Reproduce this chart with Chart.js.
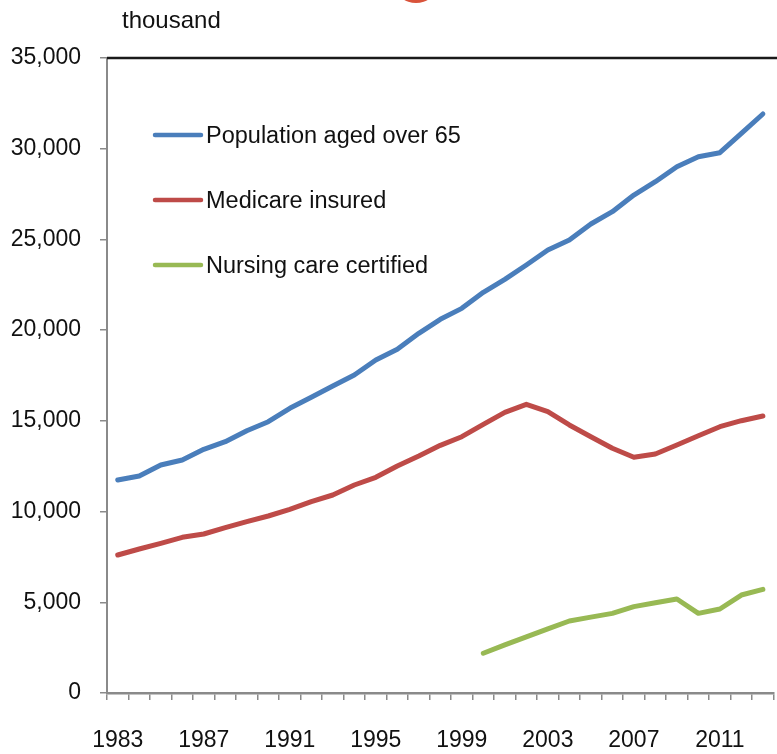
<!DOCTYPE html>
<html>
<head>
<meta charset="utf-8">
<script src="https://cdn.jsdelivr.net/npm/chart.js@4/dist/chart.umd.min.js"></script>
<style>
  html, body { margin: 0; padding: 0; overflow: hidden; background: #ffffff; width: 777px; height: 754px; }
  canvas { display: block; }
</style>
</head>
<body>
<canvas id="c" width="790" height="754"></canvas>
<script>
const years = ['1983','1984','1985','1986','1987','1988','1989','1990','1991','1992','1993','1994','1995','1996','1997','1998','1999','2000','2001','2002','2003','2004','2005','2006','2007','2008','2009','2010','2011','2012','2013'];
const population65 = [11740, 11960, 12567, 12842, 13430, 13851, 14457, 14953, 15692, 16298, 16921, 17527, 18354, 18944, 19826, 20597, 21200, 22085, 22800, 23590, 24417, 24968, 25850, 26530, 27448, 28183, 29010, 29560, 29780, 30850, 31913];
const medicare = [7606, 7937, 8250, 8580, 8764, 9111, 9442, 9756, 10125, 10545, 10913, 11464, 11889, 12512, 13063, 13650, 14127, 14810, 15471, 15912, 15505, 14772, 14127, 13487, 12991, 13173, 13669, 14182, 14678, 15008, 15267];
const nursing = [null, null, null, null, null, null, null, null, null, null, null, null, null, null, null, null, null, 2190, 2650, 3090, 3535, 3968, 4180, 4390, 4760, 4970, 5181, 4390, 4630, 5400, 5715];
const seriesNames = ['Population aged over 65', 'Medicare insured', 'Nursing care certified'];
const yTicks = [0, 5000, 10000, 15000, 20000, 25000, 30000, 35000];
const unitLabel = 'thousand';

const colors = ['#4A7EBB', '#BE4B48', '#98B954'];
const numFont = "'Liberation Sans', Arial, sans-serif";
const textFont = "'Liberation Sans', Arial, sans-serif";

const decor = {
  id: 'decor',
  afterDraw(chart) {
    const ctx = chart.ctx;
    const a = chart.chartArea;
    ctx.save();
    // top border of plot area
    ctx.strokeStyle = '#1A1A1A';
    ctx.lineWidth = 2.5;
    ctx.beginPath();
    ctx.moveTo(a.left, a.top);
    ctx.lineTo(a.right + 10, a.top);
    ctx.stroke();
    // unit label
    ctx.fillStyle = '#111111';
    ctx.font = "24px " + textFont;
    ctx.textBaseline = 'alphabetic';
    ctx.textAlign = 'left';
    ctx.fillText(unitLabel, 122, 28);
    // partial red logo at top
    ctx.fillStyle = '#D9533B';
    ctx.beginPath();
    ctx.ellipse(416, -13, 20, 16, 0, 0, Math.PI * 2);
    ctx.fill();
    // legend
    chart.data.datasets.forEach((ds, i) => {
      const y = 135 + 65 * i;
      ctx.strokeStyle = ds.borderColor;
      ctx.lineWidth = 4.5;
      ctx.lineCap = 'round';
      ctx.beginPath();
      ctx.moveTo(155, y);
      ctx.lineTo(201, y);
      ctx.stroke();
      ctx.fillStyle = '#111111';
      ctx.font = "23.5px " + textFont;
      ctx.textBaseline = 'alphabetic';
      ctx.fillText(ds.label, 206, y + 8);
    });
    ctx.restore();
  }
};

new Chart(document.getElementById('c'), {
  type: 'line',
  data: {
    labels: years,
    datasets: [
      { label: seriesNames[0], data: population65, borderColor: colors[0], backgroundColor: colors[0] },
      { label: seriesNames[1], data: medicare, borderColor: colors[1], backgroundColor: colors[1] },
      { label: seriesNames[2], data: nursing, borderColor: colors[2], backgroundColor: colors[2] }
    ].map(d => Object.assign(d, { borderWidth: 5, pointRadius: 0, tension: 0, borderCapStyle: 'round', borderJoinStyle: 'round', spanGaps: false }))
  },
  options: {
    responsive: false,
    animation: false,
    events: [],
    layout: { padding: { top: 58, left: 0, right: 7.5, bottom: 0 } },
    plugins: { legend: { display: false }, tooltip: { enabled: false }, title: { display: false } },
    scales: {
      x: {
        type: 'category',
        offset: true,
        grid: { offset: true, drawOnChartArea: false, drawTicks: true, tickLength: 7, color: '#8A8A8A', lineWidth: 1.5 },
        border: { display: true, color: '#8A8A8A', width: 2.5 },
        ticks: {
          autoSkip: false, maxRotation: 0, minRotation: 0, padding: 27,
          color: '#111111', font: { family: numFont, size: 23 },
          callback: function(v, i) { return (i % 4 === 0) ? this.getLabelForValue(v) : ''; }
        },
        afterFit(scale) { scale.height = 61; }
      },
      y: {
        min: 0, max: 35000,
        afterBuildTicks(scale) { scale.ticks = yTicks.map(v => ({ value: v })); },
        grid: { drawOnChartArea: false, drawTicks: true, tickLength: 7, color: '#8A8A8A', lineWidth: 1.5 },
        border: { display: true, color: '#8A8A8A', width: 2 },
        ticks: {
          padding: 19, color: '#111111', font: { family: numFont, size: 23 },
          callback: v => v.toLocaleString('en-US')
        },
        afterFit(scale) { scale.width = 107; }
      }
    }
  },
  plugins: [decor]
});
</script>
</body>
</html>
